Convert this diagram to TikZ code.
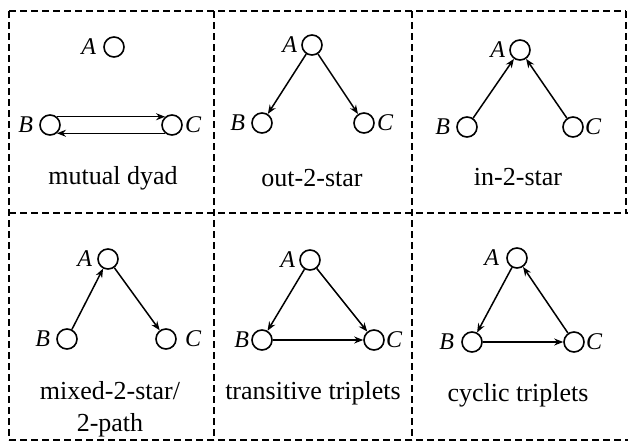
\documentclass[tikz,border=0pt]{standalone}
\usepackage{fontspec}
\setmainfont{Liberation Serif}
\usetikzlibrary{arrows.meta, positioning}

\begin{document}
\begin{tikzpicture}[
  x=1pt, y=-1pt,
  vert/.style={circle, draw, line width=1.6pt, minimum size=20pt, inner sep=0},
  lbl/.style={font=\fontsize{24}{26}\selectfont\itshape, inner sep=1pt},
  motif/.style={font=\fontsize{26}{32}\selectfont, align=center},
  cell/.style={dashed, line width=1.3pt, dash pattern=on 7pt off 4pt},
  tie/.style={-{Stealth[length=9pt, width=7pt]}, line width=1.5pt}
]
  \useasboundingbox (0,0) rectangle (629,447);

  % Frame
  \draw[cell] (9,11) -- (626,11);
  \draw[cell] (9,213) -- (628,213);
  \draw[cell] (9,440) -- (628,440);
  \draw[cell] (9,11) -- (9,440);
  \draw[cell] (214,11) -- (214,440);
  \draw[cell] (412,11) -- (412,440);
  \draw[cell] (626,11) -- (626,213);

  % Cell 1: mutual dyad
  \node[vert] (a1) at (114, 47) {};
  \node[vert] (b1) at (50, 125) {};
  \node[vert] (c1) at (172, 125) {};
  \node[lbl, left=6pt of a1] {A};
  \node[lbl, left=5pt of b1] {B};
  \node[lbl, right=1pt of c1] {C};
  \draw[tie] (b1.50) -- (c1.130);
  \draw[tie] (c1.-130) -- (b1.-50);
  \node[motif] at (113, 178) {mutual dyad};

  % Cell 2: out-2-star
  \node[vert] (a2) at (312, 45) {};
  \node[vert] (b2) at (262, 123) {};
  \node[vert] (c2) at (364, 123) {};
  \node[lbl, left=3pt of a2] {A};
  \node[lbl, left=5pt of b2] {B};
  \node[lbl, right=1pt of c2] {C};
  \draw[tie] (a2) -- (b2);
  \draw[tie] (a2) -- (c2);
  \node[motif] at (312, 178) {out-2-star};

  % Cell 3: in-2-star
  \node[vert] (a3) at (520, 50) {};
  \node[vert] (b3) at (467, 127) {};
  \node[vert] (c3) at (573, 127) {};
  \node[lbl, left=3pt of a3] {A};
  \node[lbl, left=5pt of b3] {B};
  \node[lbl, right=0pt of c3] {C};
  \draw[tie] (b3) -- (a3);
  \draw[tie] (c3) -- (a3);
  \node[motif] at (518, 177) {in-2-star};

  % Cell 4: mixed-2-star / 2-path
  \node[vert] (a4) at (108, 259) {};
  \node[vert] (b4) at (67, 339) {};
  \node[vert] (c4) at (166, 339) {};
  \node[lbl, left=4pt of a4] {A};
  \node[lbl, left=5pt of b4] {B};
  \node[lbl, right=7pt of c4] {C};
  \draw[tie] (b4) -- (a4);
  \draw[tie] (a4) -- (c4);
  \node[motif] at (110, 409) {mixed-2-star/\\2-path};

  % Cell 5: transitive triplets
  \node[vert] (a5) at (310, 260) {};
  \node[vert] (b5) at (262, 340) {};
  \node[vert] (c5) at (374, 340) {};
  \node[lbl, left=3pt of a5] {A};
  \node[lbl, left=1pt of b5] {B};
  \node[lbl, right=0pt of c5] {C};
  \draw[tie] (a5) -- (b5);
  \draw[tie] (a5) -- (c5);
  \draw[tie] (b5) -- (c5);
  \node[motif] at (313, 393) {transitive triplets};

  % Cell 6: cyclic triplets
  \node[vert] (a6) at (517, 258) {};
  \node[vert] (b6) at (472, 342) {};
  \node[vert] (c6) at (574, 342) {};
  \node[lbl, left=6pt of a6] {A};
  \node[lbl, left=6pt of b6] {B};
  \node[lbl, right=0pt of c6] {C};
  \draw[tie] (a6) -- (b6);
  \draw[tie] (b6) -- (c6);
  \draw[tie] (c6) -- (a6);
  \node[motif] at (518, 395) {cyclic triplets};
\end{tikzpicture}
\end{document}
